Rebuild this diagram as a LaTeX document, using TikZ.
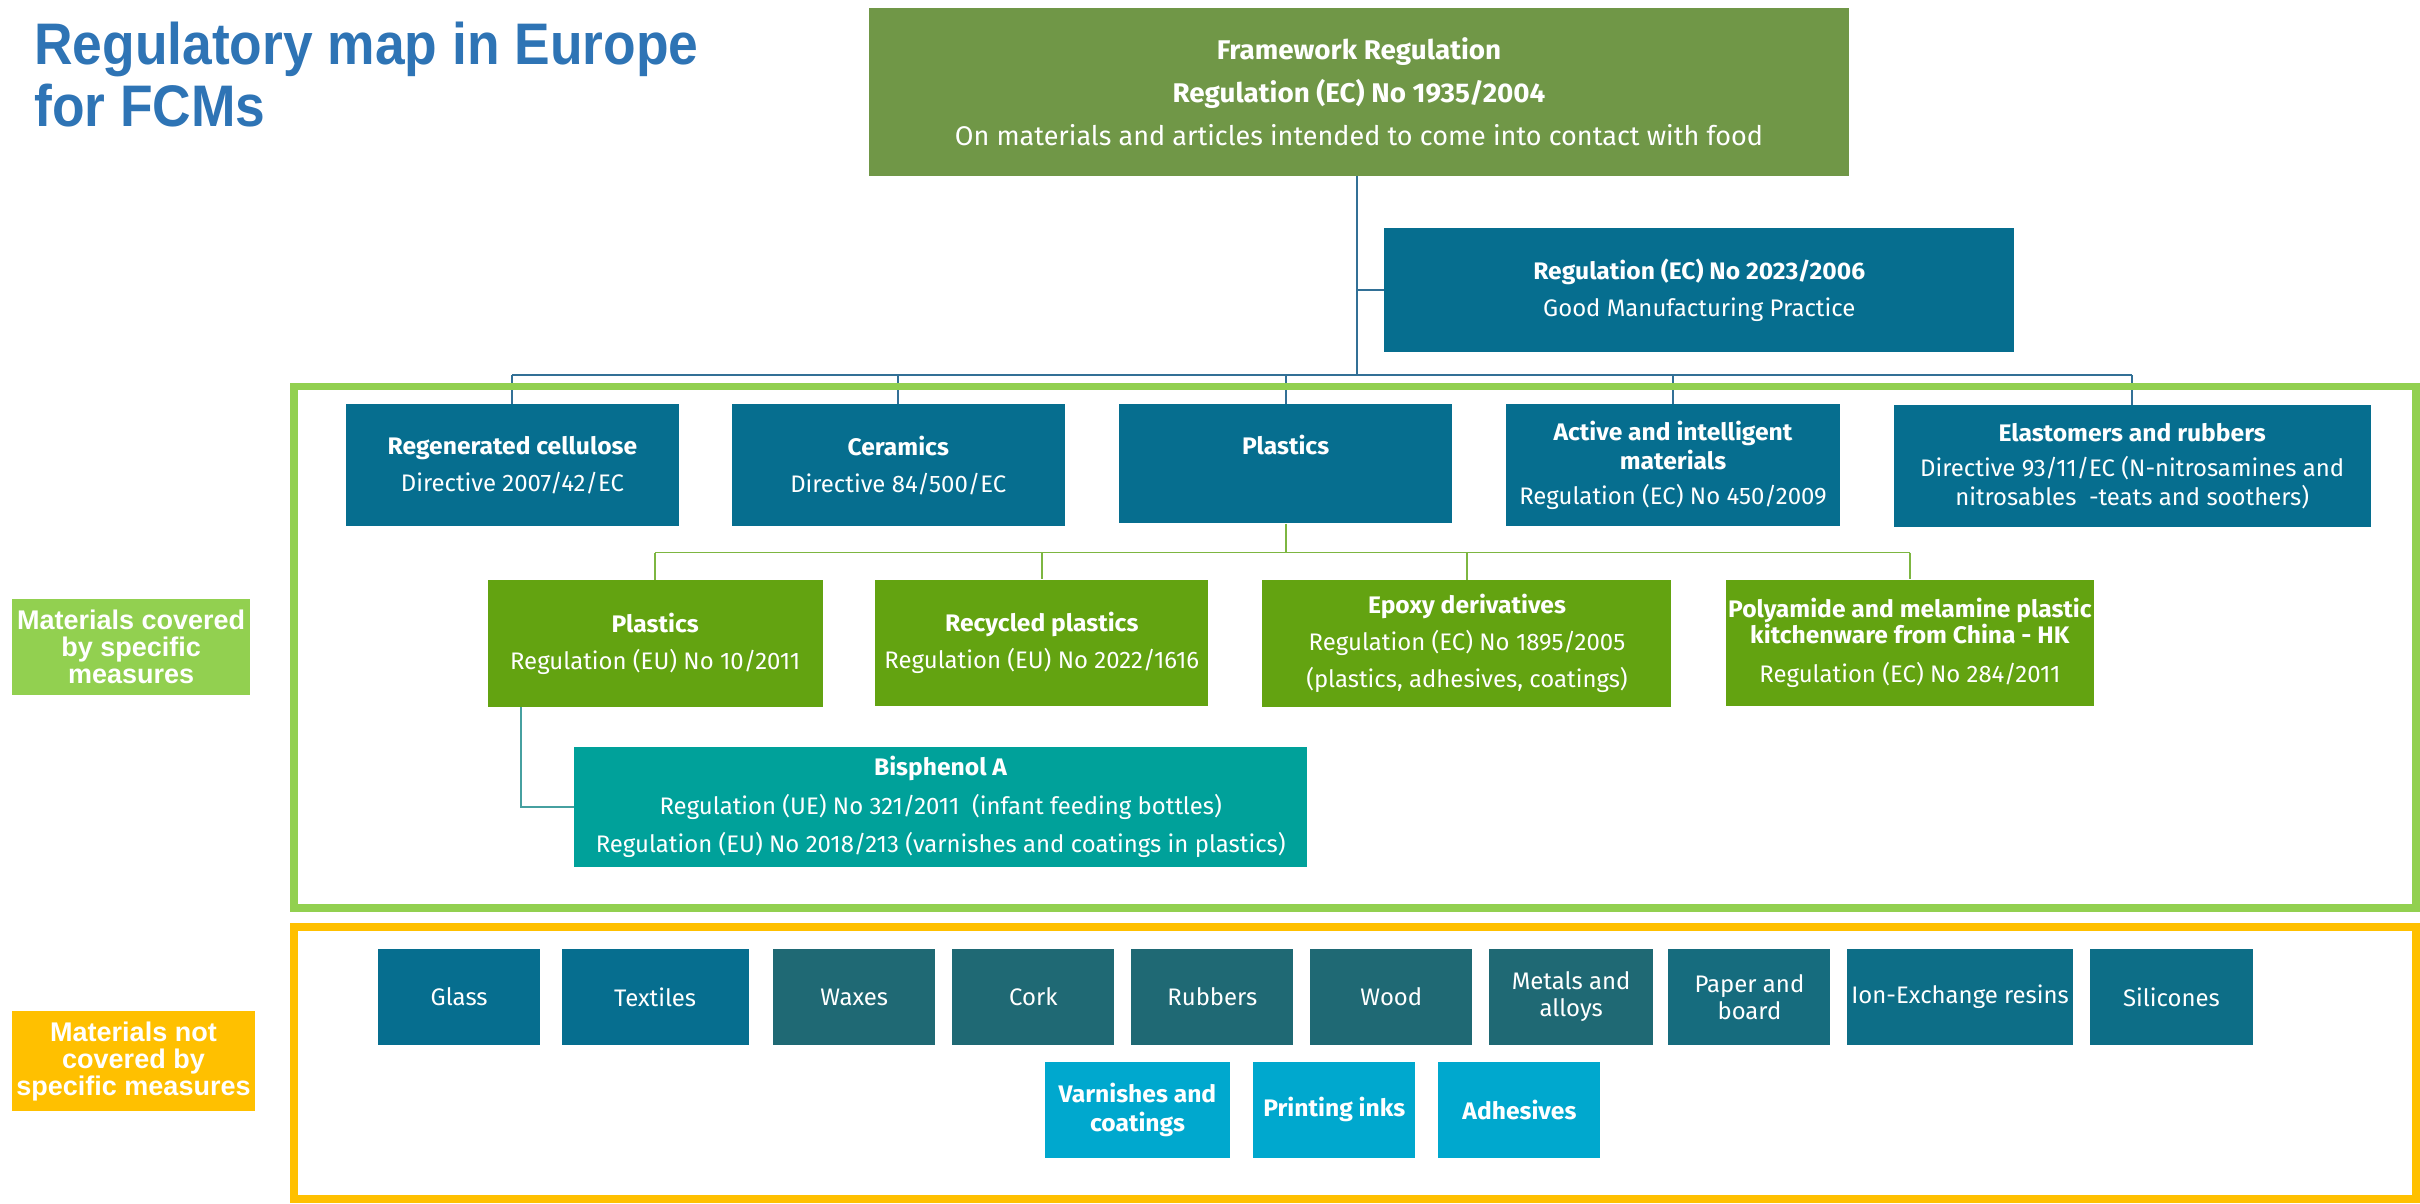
\documentclass[tikz,border=0pt]{standalone}
\usepackage{fontspec}
\usetikzlibrary{calc}
\newfontfamily\boxfont[BoldFeatures={FakeStretch=1.03}]{Fira Sans}
\newfontfamily\titlefont[FakeStretch=0.91]{Liberation Sans}
\newfontfamily\labelfont{Liberation Sans}
\definecolor{fwgreen}{RGB}{112,151,71}
\definecolor{regblue}{RGB}{6,110,143}
\definecolor{plgreen}{RGB}{99,163,17}
\definecolor{bpateal}{RGB}{0,161,154}
\definecolor{covgreen}{RGB}{146,208,80}
\definecolor{notyellow}{RGB}{255,192,0}
\definecolor{darkteal}{RGB}{31,105,116}
\definecolor{midteal}{RGB}{22,108,126}
\definecolor{ionblue}{RGB}{13,110,135}
\definecolor{lightblue}{RGB}{0,168,206}
\definecolor{titleblue}{RGB}{46,116,181}
\definecolor{busblue}{RGB}{50,112,150}
\definecolor{busgreen}{RGB}{125,182,65}
\definecolor{busteal}{RGB}{70,160,160}
\tikzset{
  box/.style={rectangle, inner sep=0pt, align=center, text=white,
    font=\boxfont\fontsize{15.5}{18}\selectfont},
  fw/.style={box, fill=fwgreen, font=\boxfont\fontsize{17.5}{21}\selectfont},
  rb/.style={box, fill=regblue, minimum height=79pt},
  pg/.style={box, fill=plgreen, minimum height=82pt},
  small/.style={box, minimum height=62pt, font=\boxfont\fontsize{15.5}{17.5}\selectfont},
  smallb/.style={small, fill=lightblue, font=\boxfont\bfseries\fontsize{15.5}{18.5}\selectfont},
  sidelabel/.style={rectangle, inner sep=0pt, align=center, text=white,
    font=\labelfont\bfseries\fontsize{17.5}{17.5}\selectfont},
  busb/.style={draw=busblue, line width=1.2pt},
  busg/.style={draw=busgreen, line width=1.2pt},
  bust/.style={draw=busteal, line width=1.2pt},
}
\begin{document}
\begin{tikzpicture}[x=1pt,y=-1pt]
\useasboundingbox (0,0) rectangle (1568,780);
\fill[white] (0,0) rectangle (1568,780);

% title
\node[anchor=north west, inner sep=0pt, align=left, text=titleblue,
  font=\titlefont\bfseries\fontsize{38}{40}\selectfont] (title) at (22,14)
  {Regulatory map in Europe\\for FCMs};

% framework and GMP
\node[fw, minimum width=635pt, minimum height=109pt] (fw) at (880.5,59.5)
  {\textbf{Framework Regulation}\\[7pt]\textbf{Regulation (EC) No 1935/2004}\\[7pt]On materials and articles intended to come into contact with food};
\node[rb, minimum width=408pt, minimum height=80pt] (gmp) at (1101,188)
  {\textbf{Regulation (EC) No 2023/2006}\\[6pt]Good Manufacturing Practice};

% row 1
\node[rb, minimum width=216pt] (reg) at (332,301.5)
  {\textbf{Regenerated cellulose}\\[6pt]Directive 2007/42/EC};
\node[rb, minimum width=216pt] (cer) at (582,301.5)
  {\textbf{Ceramics}\\[6pt]Directive 84/500/EC};
\node[rb, minimum width=216pt, minimum height=77pt] (pla) at (833,300.5)
  {\textbf{Plastics}\\[6pt]\mbox{}};
\node[rb, minimum width=216pt] (act) at (1084,301.5)
  {\textbf{Active and intelligent}\\[1pt]\textbf{materials}\\[5pt]Regulation (EC) No 450/2009};
\node[rb, minimum width=309pt] (ela) at (1381.5,302)
  {\textbf{Elastomers and rubbers}\\[5pt]Directive 93/11/EC (N-nitrosamines and\\[1pt]nitrosables\ \ -teats and soothers)};

% row 2
\node[pg, minimum width=217pt] (p2) at (424.5,417)
  {\textbf{Plastics}\\[6pt]Regulation (EU) No 10/2011};
\node[pg, minimum width=216pt] (rec) at (675,416.5)
  {\textbf{Recycled plastics}\\[6pt]Regulation (EU) No 2022/1616};
\node[pg, minimum width=265pt] (epo) at (950.5,417)
  {\textbf{Epoxy derivatives}\\[6pt]Regulation (EC) No 1895/2005\\[6pt](plastics, adhesives, coatings)};
\node[pg, minimum width=239pt] (pol) at (1237.5,416.5)
  {\textbf{Polyamide and melamine plastic}\\[-1pt]\textbf{kitchenware from China - HK}\\[7pt]Regulation (EC) No 284/2011};

% bisphenol
\node[box, fill=bpateal, minimum width=475pt, minimum height=78pt] (bpa) at (609.5,523)
  {\textbf{Bisphenol A}\\[7pt]Regulation (UE) No 321/2011\ \ (infant feeding bottles)\\[7pt]Regulation (EU) No 2018/213 (varnishes and coatings in plastics)};

% connectors: framework level
\coordinate (trunk) at (879,243);
\draw[busb] (fw.south -| trunk) -- (trunk);
\draw[busb] (fw.south -| trunk) |- (gmp.west);
\draw[busb] (reg.north |- trunk) -- (ela.north |- trunk);
\foreach \n in {reg,cer,pla,act,ela} \draw[busb] (\n.north |- trunk) -- (\n.north);

% connectors: plastics level
\coordinate (pbus) at (833,358);
\draw[busg] (pla.south) -- (pbus);
\draw[busg] (p2.north |- pbus) -- (pol.north |- pbus);
\foreach \n in {p2,rec,epo,pol} \draw[busg] (\n.north |- pbus) -- (\n.north);
\draw[bust] ($(p2.south west)+(22,0)$) |- (bpa.west);

% frames
\draw[covgreen, line width=5pt] (190.5,250.5) rectangle (1565.5,588.5);
\draw[notyellow, line width=5pt] (190.5,600.5) rectangle (1565.5,777);

% side labels
\node[sidelabel, fill=covgreen, minimum width=154pt, minimum height=62pt] (cov) at (85,419)
  {Materials covered\\by specific\\measures};
\node[sidelabel, fill=notyellow, minimum width=157pt, minimum height=65pt] (notcov) at (86.5,687.5)
  {Materials not\\covered by\\specific measures};

% not covered row
\node[small, fill=regblue, minimum width=105pt] (glass) at (297.5,646) {Glass};
\node[small, fill=regblue, minimum width=121pt] (text) at (424.5,646) {Textiles};
\node[small, fill=darkteal, minimum width=105pt] (wax) at (553.5,646) {Waxes};
\node[small, fill=darkteal, minimum width=105pt] (cork) at (669.5,646) {Cork};
\node[small, fill=darkteal, minimum width=105pt] (rub) at (785.5,646) {Rubbers};
\node[small, fill=darkteal, minimum width=105pt] (wood) at (901.5,646) {Wood};
\node[small, fill=darkteal, minimum width=106pt] (met) at (1018,646) {Metals and\\alloys};
\node[small, fill=midteal, minimum width=105pt] (pap) at (1133.5,646) {Paper and\\board};
\node[small, fill=ionblue, minimum width=146pt] (ion) at (1270,646) {Ion-Exchange resins};
\node[small, fill=ionblue, minimum width=106pt] (sil) at (1407,646) {Silicones};

\node[smallb, minimum width=120pt] (var) at (737,719) {Varnishes and\\coatings};
\node[smallb, minimum width=105pt] (ink) at (864.5,719) {Printing inks};
\node[smallb, minimum width=105pt] (adh) at (984.5,719) {Adhesives};
\end{tikzpicture}
\end{document}
